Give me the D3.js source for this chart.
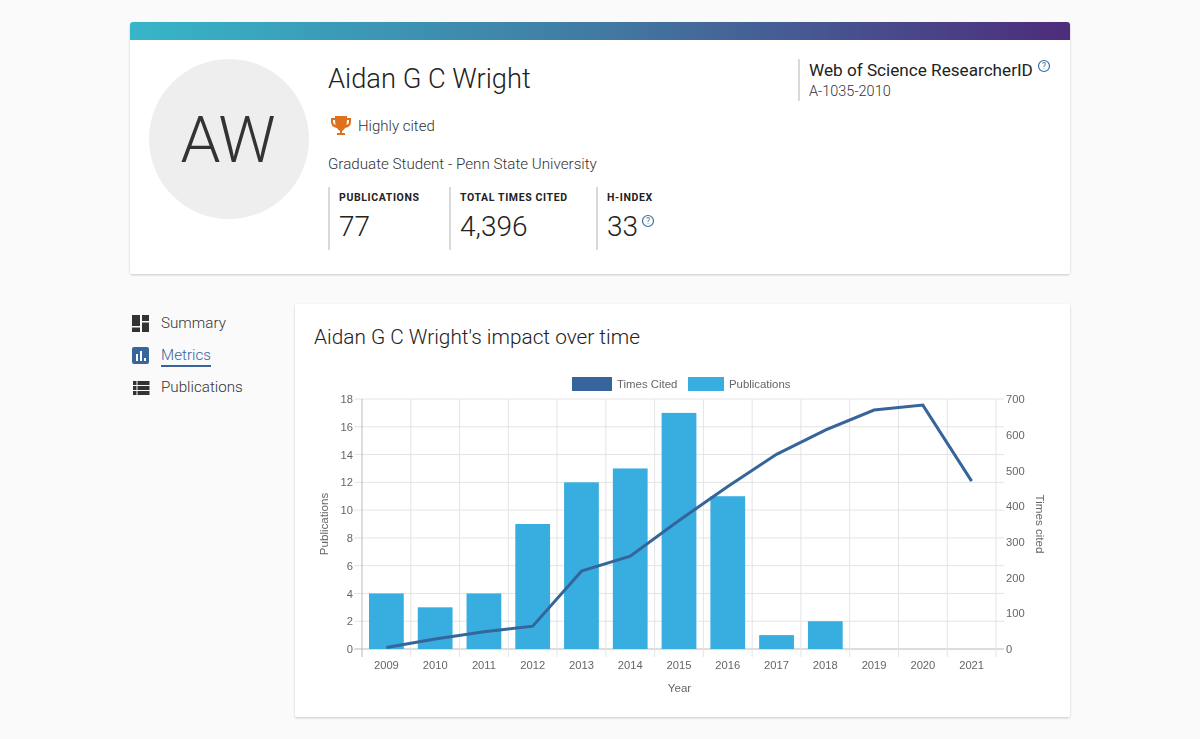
<!DOCTYPE html>
<meta charset="utf-8">
<title>Aidan G C Wright</title>
<script src="https://d3js.org/d3.v7.min.js"></script>
<style>
html, body {
    margin: 0;
    background: #fafafa;
}
svg {
    display: block;
}
text {
    font-family: Roboto, sans-serif;
}
.axis text {
    font-family: "Liberation Sans", sans-serif;
    font-size: 11.200px;
    fill: #666;
}
.legend text {
    font-family: "Liberation Sans", sans-serif;
    font-size: 11.400px;
    fill: #666;
}
.axis-title {
    font-family: "Liberation Sans", sans-serif;
    font-size: 11.600px;
    fill: #666;
}
.card {
    fill: #fff;
    filter: url(#shadow);
}
</style>
<body>
<script>
var years = [2009, 2010, 2011, 2012, 2013, 2014, 2015, 2016, 2017, 2018, 2019, 2020, 2021];
var publications = [4, 3, 4, 9, 12, 13, 17, 11, 1, 2, 0, 0, 0];
var timesCited = [4, 28, 48, 64, 218, 260, 360, 455, 545, 613, 669, 683, 470];
var pubTicks = [0, 2, 4, 6, 8, 10, 12, 14, 16, 18];
var citedTicks = [0, 100, 200, 300, 400, 500, 600, 700];
var legendNames = ["Times Cited", "Publications"];
var stats = [
    {label: "PUBLICATIONS", value: "77"},
    {label: "TOTAL TIMES CITED", value: "4,396"},
    {label: "H-INDEX", value: "33"}
];
var navItems = ["Summary", "Metrics", "Publications"];

var width = 1200,
    height = 739;

var svg = d3.select("body").append("svg")
    .attr("width", width)
    .attr("height", height);

var defs = svg.append("defs");

var shadow = defs.append("filter")
    .attr("id", "shadow")
    .attr("x", "-2%")
    .attr("y", "-2%")
    .attr("width", "104%")
    .attr("height", "104%");
shadow.append("feDropShadow")
    .attr("dx", 0)
    .attr("dy", 1)
    .attr("stdDeviation", 1)
    .attr("flood-color", "#000")
    .attr("flood-opacity", 0.2);

var gradient = defs.append("linearGradient")
    .attr("id", "banner");
gradient.append("stop").attr("offset", 0).attr("stop-color", "#37b5c9");
gradient.append("stop").attr("offset", 0.5).attr("stop-color", "#417aa3");
gradient.append("stop").attr("offset", 1).attr("stop-color", "#4d2c7c");

// profile card
svg.append("rect").attr("class", "card")
    .attr("x", 130).attr("y", 22).attr("width", 940).attr("height", 252).attr("rx", 3);
svg.append("path")
    .attr("d", "M130,40V25a3,3 0 0 1 3,-3H1067a3,3 0 0 1 3,3V40Z")
    .attr("fill", "url(#banner)");

svg.append("circle").attr("cx", 229).attr("cy", 139).attr("r", 80).attr("fill", "#eee");
svg.append("text")
    .attr("x", 228).attr("y", 162)
    .attr("text-anchor", "middle")
    .attr("font-size", 64)
    .attr("font-weight", 300)
    .attr("fill", "#333")
    .text("AW");

svg.append("text")
    .attr("x", 328).attr("y", 88)
    .attr("font-size", 27.300)
    .attr("font-weight", 300)
    .attr("fill", "#222")
    .text("Aidan G C Wright");

// trophy
svg.append("path")
    .attr("fill", "#e0701c")
    .attr("d", "M335,116H347V118H351V122Q351,127 345,128Q344,130 342,131V133H345V135H337V133H340V131Q338,130 337,128Q331,127 331,122V118H335ZM333,120V122Q333,124 335.500,125L335,120ZM349,120H347L346.500,125Q349,124 349,122Z");

svg.append("text")
    .attr("x", 358).attr("y", 131)
    .attr("font-size", 15)
    .attr("font-weight", 300)
    .attr("fill", "#333")
    .text("Highly cited");

svg.append("text")
    .attr("x", 328).attr("y", 168.500)
    .attr("font-size", 15.160)
    .attr("font-weight", 300)
    .attr("fill", "#333")
    .text("Graduate Student - Penn State University");

var statX = [329, 450, 597];
var statGroups = svg.selectAll(".stat")
    .data(stats)
    .enter().append("g")
    .attr("class", "stat")
    .attr("transform", function(d, i) { return "translate(" + statX[i] + ",0)"; });
statGroups.append("line")
    .attr("y1", 187).attr("y2", 250)
    .attr("stroke", "#ccc")
    .attr("stroke-width", 1.500);
statGroups.append("text")
    .attr("x", 10).attr("y", 201)
    .attr("font-size", 10.500)
    .attr("font-weight", 700)
    .attr("letter-spacing", 0.620)
    .attr("fill", "#222")
    .text(function(d) { return d.label; });
statGroups.append("text")
    .attr("x", 10).attr("y", 236)
    .attr("font-size", 28)
    .attr("font-weight", 300)
    .attr("fill", "#222")
    .text(function(d) { return d.value; });

function helpIcon(cx, cy) {
    var g = svg.append("g");
    g.append("circle")
        .attr("cx", cx).attr("cy", cy).attr("r", 5.500)
        .attr("fill", "none")
        .attr("stroke", "#3a6ea5")
        .attr("stroke-width", 1.200);
    g.append("text")
        .attr("x", cx).attr("y", cy + 3)
        .attr("text-anchor", "middle")
        .attr("font-size", 8.500)
        .attr("fill", "#3a6ea5")
        .text("?");
}
helpIcon(648, 221);
helpIcon(1044, 66);

svg.append("line")
    .attr("x1", 799).attr("x2", 799)
    .attr("y1", 59).attr("y2", 101)
    .attr("stroke", "#ccc")
    .attr("stroke-width", 1.500);
svg.append("text")
    .attr("x", 809).attr("y", 76)
    .attr("font-size", 17.150)
    .attr("fill", "#222")
    .text("Web of Science ResearcherID");
svg.append("text")
    .attr("x", 809).attr("y", 96)
    .attr("font-size", 14.500)
    .attr("font-weight", 300)
    .attr("fill", "#333")
    .text("A-1035-2010");

// side nav
var navY = [323, 355, 387];
svg.selectAll(".nav")
    .data(navItems)
    .enter().append("text")
    .attr("class", "nav")
    .attr("x", 161)
    .attr("y", function(d, i) { return navY[i] + 5; })
    .attr("font-size", 15.200)
    .attr("font-weight", 300)
    .attr("fill", function(d) { return d === "Metrics" ? "#35659a" : "#333"; })
    .text(function(d) { return d; });
svg.append("rect")
    .attr("x", 161).attr("y", 365).attr("width", 50).attr("height", 2)
    .attr("fill", "#35659a");

var summaryIcon = svg.append("g").attr("fill", "#333");
summaryIcon.append("rect").attr("x", 132).attr("y", 315).attr("width", 8).attr("height", 11);
summaryIcon.append("rect").attr("x", 142).attr("y", 315).attr("width", 7).attr("height", 6);
summaryIcon.append("rect").attr("x", 132).attr("y", 327.500).attr("width", 8).attr("height", 4.500);
summaryIcon.append("rect").attr("x", 142).attr("y", 322.500).attr("width", 7).attr("height", 9.500);

svg.append("rect")
    .attr("x", 132).attr("y", 347).attr("width", 17).attr("height", 17).attr("rx", 2)
    .attr("fill", "#35659a");
svg.append("path")
    .attr("stroke", "#fff")
    .attr("stroke-width", 2)
    .attr("d", "M137,354V361M141,351V361M145,358V361");

var listIcon = svg.append("g").attr("fill", "#333");
[381, 386, 391].forEach(function(y) {
    listIcon.append("rect").attr("x", 133).attr("y", y).attr("width", 3.500).attr("height", 4);
    listIcon.append("rect").attr("x", 137.500).attr("y", y).attr("width", 12).attr("height", 4);
});

// chart card
svg.append("rect").attr("class", "card")
    .attr("x", 295).attr("y", 304).attr("width", 775).attr("height", 413).attr("rx", 2);
svg.append("text")
    .attr("x", 314).attr("y", 344)
    .attr("font-size", 20.800)
    .attr("font-weight", 300)
    .attr("fill", "#222")
    .text("Aidan G C Wright's impact over time");

var left = 362,
    right = 996,
    top_ = 399,
    bottom = 649;

var x = d3.scaleBand()
    .domain(years)
    .range([left, right]);

var yPub = d3.scaleLinear()
    .domain([0, 18])
    .range([bottom, top_]);

var yCited = d3.scaleLinear()
    .domain([0, 700])
    .range([bottom, top_]);

var gridColor = "#e4e4e4";

// everything in the plot goes in one group, the opacity keeps its text from colour fringing
var chart = svg.append("g").attr("opacity", 0.999);

// gridlines
chart.append("g").selectAll("line")
    .data(pubTicks)
    .enter().append("line")
    .attr("x1", left - 8).attr("x2", right + 8)
    .attr("y1", function(d) { return yPub(d); })
    .attr("y2", function(d) { return yPub(d); })
    .attr("stroke", function(d) { return d === 0 ? "#bbb" : gridColor; });

chart.append("g").selectAll("line")
    .data(years.concat(["end"]))
    .enter().append("line")
    .attr("x1", function(d) { return d === "end" ? right : x(d); })
    .attr("x2", function(d) { return d === "end" ? right : x(d); })
    .attr("y1", top_)
    .attr("y2", bottom + 8)
    .attr("stroke", function(d) { return d === years[0] ? "#bbb" : gridColor; });

// bars
chart.append("g").selectAll("rect")
    .data(years)
    .enter().append("rect")
    .attr("x", function(d) { return x(d) + 7; })
    .attr("width", x.bandwidth() - 14)
    .attr("y", function(d, i) { return yPub(publications[i]); })
    .attr("height", function(d, i) { return bottom - yPub(publications[i]); })
    .attr("fill", "#38ade0");

// line
var line = d3.line()
    .x(function(d, i) { return x(years[i]) + x.bandwidth() / 2; })
    .y(function(d) { return yCited(d); });

chart.append("path")
    .attr("d", line(timesCited))
    .attr("fill", "none")
    .attr("stroke", "#35659a")
    .attr("stroke-width", 3);

// axes
var xAxis = chart.append("g")
    .attr("class", "axis")
    .attr("transform", "translate(0," + (bottom + 8) + ")")
    .call(d3.axisBottom(x).tickSize(0).tickPadding(4).tickFormat(d3.format("d")));
xAxis.select(".domain").remove();

var leftAxis = chart.append("g")
    .attr("class", "axis")
    .attr("transform", "translate(" + (left - 8) + ",0)")
    .call(d3.axisLeft(yPub).tickValues(pubTicks).tickSize(0).tickPadding(1));
leftAxis.select(".domain").remove();

var rightAxis = chart.append("g")
    .attr("class", "axis")
    .attr("transform", "translate(" + (right + 8) + ",0)")
    .call(d3.axisRight(yCited).tickValues(citedTicks).tickSize(0).tickPadding(2));
rightAxis.select(".domain").remove();

chart.append("text")
    .attr("class", "axis-title")
    .attr("x", 679.500).attr("y", 692)
    .attr("text-anchor", "middle")
    .text("Year");
chart.append("text")
    .attr("class", "axis-title")
    .attr("text-anchor", "middle")
    .attr("transform", "translate(328,524)rotate(-90)")
    .text("Publications");
chart.append("text")
    .attr("class", "axis-title")
    .attr("text-anchor", "middle")
    .attr("transform", "translate(1036,524)rotate(90)")
    .text("Times cited");

// legend
var legendColors = ["#35659a", "#38ade0"];
var legendX = [572, 688];
var legendW = [40, 36];
var legend = chart.selectAll(".legend")
    .data(legendNames)
    .enter().append("g")
    .attr("class", "legend")
    .attr("transform", function(d, i) { return "translate(" + legendX[i] + ",377)"; });
legend.append("rect")
    .attr("width", function(d, i) { return legendW[i]; })
    .attr("height", 14)
    .attr("fill", function(d, i) { return legendColors[i]; });
legend.append("text")
    .attr("x", function(d, i) { return legendW[i] + 5; })
    .attr("y", 11)
    .text(function(d) { return d; });
</script>
